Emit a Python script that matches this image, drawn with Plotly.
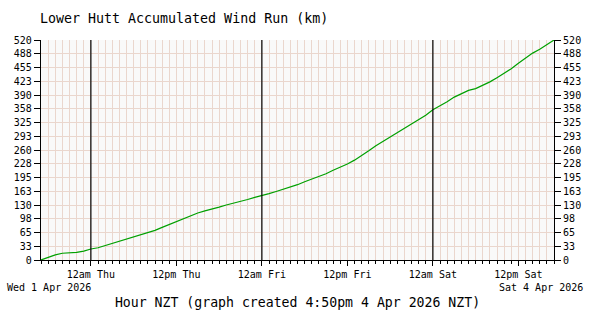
import plotly.graph_objects as go
import pandas as pd

# ---- data ----
start_time = "2026-04-01 17:00"
wind_run_km = [0, 6, 12, 16, 17, 18, 21, 26, 29, 34, 39, 44, 49, 54, 59, 64,
               70, 77, 84, 91, 97, 104, 111, 116, 120, 125, 130, 134, 139, 143,
               148, 152, 157, 162, 167, 173, 178, 185, 191, 197, 204, 212, 219,
               227, 236, 246, 258, 270, 280, 290, 300, 311, 321, 331, 342, 355,
               364, 374, 385, 394, 401, 405, 413, 421, 431, 441, 452, 465, 477,
               489, 498, 508, 520]
x_tick_vals = ["2026-04-02 00:00", "2026-04-02 12:00", "2026-04-03 00:00",
               "2026-04-03 12:00", "2026-04-04 00:00", "2026-04-04 12:00"]
x_tick_text = ["12am Thu", "12pm Thu", "12am Fri", "12pm Fri", "12am Sat", "12pm Sat"]
midnights = ["2026-04-02 00:00", "2026-04-03 00:00", "2026-04-04 00:00"]
x_range = ["2026-04-01 17:00", "2026-04-04 17:00"]
y_tick_vals = [i * 32.5 for i in range(17)]
y_tick_text = ["0", "33", "65", "98", "130", "163", "195", "228", "260", "293",
               "325", "358", "390", "423", "455", "488", "520"]
start_label = "Wed 1 Apr 2026"
end_label = "Sat 4 Apr 2026"
title_text = "Lower Hutt Accumulated Wind Run (km)"
x_title = "Hour NZT (graph created 4:50pm 4 Apr 2026 NZT)"

times = pd.date_range(start_time, periods=len(wind_run_km), freq="h")

FONT = "DejaVu Sans Mono"
GRID = "#ead6cd"

fig = go.Figure()
fig.add_trace(go.Scatter(x=times, y=wind_run_km, mode="lines",
                         line=dict(color="#00a000", width=1.2),
                         showlegend=False, hoverinfo="skip"))
fig.add_trace(go.Scatter(x=times, y=wind_run_km, mode="lines", yaxis="y2",
                         line=dict(color="rgba(0,0,0,0)", width=0),
                         showlegend=False, hoverinfo="skip"))

for m in midnights:
    fig.add_vline(x=m, line=dict(color="black", width=1.2), layer="above")

yaxis_common = dict(range=[0, 520], tickvals=y_tick_vals, ticktext=y_tick_text,
                    ticks="outside", ticklen=6, tickcolor="black", tickwidth=1.2,
                    showline=True, linecolor="black", linewidth=1.2,
                    tickfont=dict(family=FONT, size=10, color="black"),
                    zeroline=False, fixedrange=True)

fig.update_layout(
    width=600, height=320,
    margin=dict(l=41, r=46, t=40, b=60),
    paper_bgcolor="white", plot_bgcolor="#f9f9f9",
    font=dict(family=FONT, color="black"),
    xaxis=dict(type="date", range=x_range, tickvals=x_tick_vals, ticktext=x_tick_text,
               ticks="outside", ticklen=5, tickcolor="black", tickwidth=1.2,
               showline=True, linecolor="black", linewidth=1.2,
               showgrid=True, gridcolor=GRID, gridwidth=1,
               tickfont=dict(family=FONT, size=10, color="black"),
               minor=dict(dtick=3600000, tick0=start_time, showgrid=True,
                          gridcolor=GRID, gridwidth=1, ticks="outside",
                          ticklen=3, tickcolor="black", tickwidth=1),
               title=dict(text=x_title, font=dict(family=FONT, size=13.2), standoff=18),
               zeroline=False),
    yaxis=dict(side="left", showgrid=True, gridcolor=GRID, gridwidth=1, **yaxis_common),
    yaxis2=dict(side="right", overlaying="y", showgrid=False, **yaxis_common),
    title=dict(text=title_text, x=40 / 600, xanchor="left", y=1 - 18 / 320,
               yanchor="middle", font=dict(family=FONT, size=13.3, color="black")),
)

fig.add_annotation(text=start_label, xref="paper", yref="paper", x=-36 / 513,
                   y=-27 / 220, xanchor="left", yanchor="middle", showarrow=False,
                   font=dict(family=FONT, size=10, color="black"))
fig.add_annotation(text=end_label, xref="paper", yref="paper", x=(585 - 41) / 513,
                   y=-27 / 220, xanchor="right", yanchor="middle", showarrow=False,
                   font=dict(family=FONT, size=10, color="black"))

fig.write_html("out.html")
